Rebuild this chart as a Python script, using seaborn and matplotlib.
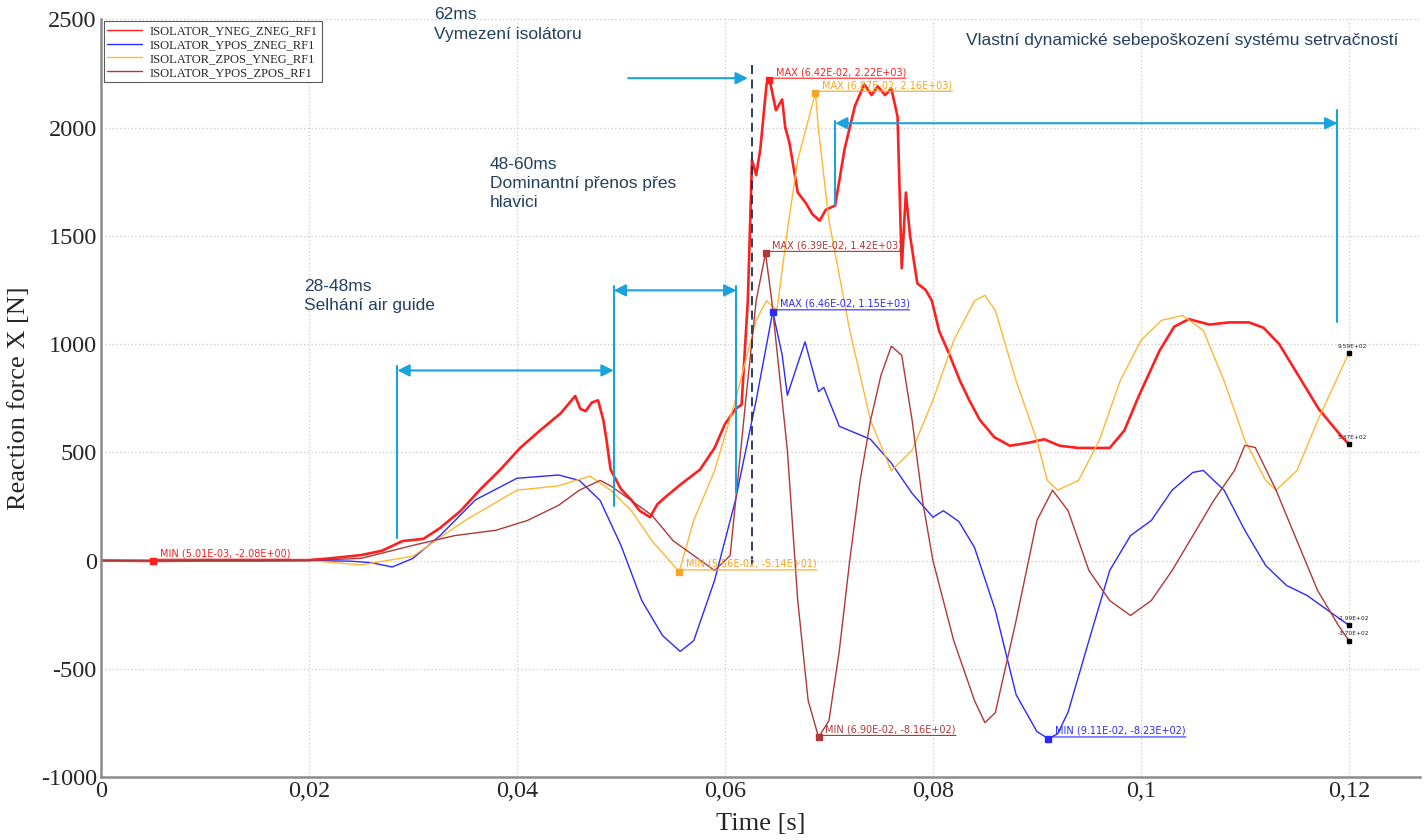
import numpy as np
import pandas as pd
import matplotlib
matplotlib.use("Agg")
import matplotlib.pyplot as plt
import seaborn as sns
from matplotlib.ticker import MultipleLocator, FuncFormatter

# ---------------- data ----------------
series_names = ["ISOLATOR_YNEG_ZNEG_RF1", "ISOLATOR_YPOS_ZNEG_RF1",
                "ISOLATOR_ZPOS_YNEG_RF1", "ISOLATOR_YPOS_ZPOS_RF1"]
series_colors = ["#ff1f1f", "#2b2bff", "#ffb733", "#b03838"]

t_red = [0, 0.00501, 0.01, 0.015, 0.02, 0.022, 0.025, 0.027, 0.029, 0.031, 0.0326, 0.0346,
         0.0365, 0.0384, 0.0403, 0.0422, 0.0442, 0.0449, 0.0456, 0.0461, 0.0466, 0.0472, 0.0478,
         0.0483, 0.0486, 0.049, 0.050, 0.051, 0.0518, 0.0528, 0.0535, 0.0542, 0.0557, 0.0576,
         0.059, 0.060, 0.061, 0.0616, 0.0622, 0.0626, 0.063, 0.0634, 0.064, 0.0643, 0.0649,
         0.0655, 0.0658, 0.0662, 0.067, 0.0678, 0.0684, 0.0691, 0.0697, 0.0706, 0.0715, 0.0725,
         0.0734, 0.0741, 0.0747, 0.0754, 0.076, 0.0766, 0.077, 0.0774, 0.0778, 0.0785, 0.0793,
         0.0799, 0.0806, 0.0816, 0.0826, 0.0835, 0.0845, 0.0859, 0.0874, 0.0893, 0.0907,
         0.0922, 0.094, 0.097, 0.0984, 0.0998, 0.1018, 0.1032, 0.1046, 0.1066, 0.1085, 0.1104,
         0.1118, 0.1133, 0.1152, 0.1171, 0.119, 0.12]
f_red = [0, -2.08, 0, 0, 2, 10, 25, 45, 90, 100, 150, 230,
         330, 420, 520, 600, 680, 720, 760, 700, 690, 730, 740,
         650, 560, 420, 330, 280, 230, 200, 260, 290, 350, 420,
         520, 630, 700, 720, 1200, 1850, 1780, 1900, 2200, 2220, 2080,
         2130, 2000, 1930, 1700, 1650, 1600, 1570, 1620, 1640, 1900, 2100,
         2200, 2150, 2190, 2150, 2180, 2050, 1350, 1700, 1500, 1280, 1250,
         1200, 1060, 950, 830, 740, 650, 570, 530, 545, 560,
         530, 520, 520, 600, 760, 970, 1080, 1115, 1090, 1100, 1100,
         1075, 1000, 850, 700, 590, 537]

t_blue = [0, 0.01, 0.02, 0.024, 0.026, 0.028, 0.030, 0.0326, 0.036, 0.0384, 0.040, 0.044,
          0.046, 0.048, 0.050, 0.052, 0.054, 0.0557, 0.057, 0.059, 0.061, 0.063, 0.0646,
          0.0655, 0.066, 0.0668, 0.0677, 0.069, 0.0695, 0.071, 0.072, 0.074, 0.076, 0.078,
          0.080, 0.081, 0.0825, 0.084, 0.086, 0.088, 0.090, 0.0911, 0.092, 0.093, 0.095,
          0.097, 0.099, 0.101, 0.103, 0.105, 0.106, 0.108, 0.110, 0.112, 0.114, 0.116,
          0.118, 0.12]
f_blue = [0, 0, 0, -3, -10, -30, 10, 115, 280, 340, 380, 395,
          370, 277, 70, -185, -347, -420, -370, -92, 277, 740, 1150,
          950, 763, 880, 1010, 780, 800, 620, 600, 560, 450, 310,
          200, 230, 180, 60, -230, -620, -790, -823, -800, -700, -370,
          -46, 115, 185, 325, 407, 416, 325, 139, -23, -115, -162,
          -231, -299]

t_orange = [0, 0.01, 0.02, 0.025, 0.030, 0.035, 0.040, 0.044, 0.047, 0.049, 0.051, 0.053,
            0.0556, 0.057, 0.059, 0.061, 0.063, 0.064, 0.065, 0.066, 0.067, 0.0687, 0.069,
            0.070, 0.072, 0.074, 0.076, 0.078, 0.080, 0.082, 0.084, 0.085, 0.086, 0.088,
            0.090, 0.091, 0.092, 0.094, 0.096, 0.098, 0.100, 0.102, 0.104, 0.106, 0.108,
            0.110, 0.112, 0.113, 0.115, 0.117, 0.119, 0.12]
f_orange = [0, 0, 0, -20, 20, 185, 325, 345, 390, 325, 230, 90,
            -51.4, 185, 415, 740, 1110, 1200, 1155, 1525, 1850, 2160, 1990,
            1570, 1063, 647, 415, 510, 740, 1017, 1200, 1225, 1155, 830,
            555, 370, 325, 370, 555, 830, 1017, 1110, 1132, 1063, 830,
            555, 370, 325, 415, 647, 855, 959]

t_dred = [0, 0.01, 0.02, 0.025, 0.030, 0.034, 0.038, 0.041, 0.044, 0.046, 0.048, 0.049,
          0.051, 0.053, 0.055, 0.057, 0.059, 0.0605, 0.062, 0.063, 0.0639, 0.0645, 0.066,
          0.067, 0.068, 0.069, 0.070, 0.071, 0.072, 0.073, 0.074, 0.075, 0.076, 0.077,
          0.078, 0.079, 0.080, 0.082, 0.084, 0.085, 0.086, 0.088, 0.090, 0.0915, 0.093,
          0.095, 0.097, 0.099, 0.101, 0.103, 0.105, 0.107, 0.109, 0.110, 0.111, 0.113,
          0.115, 0.117, 0.119, 0.12]
f_dred = [0, 0, 0, 10, 70, 115, 140, 185, 255, 325, 370, 345,
          277, 208, 92, 23, -46, 23, 740, 1200, 1420, 1200, 510,
          -185, -647, -816, -740, -416, 0, 370, 647, 855, 990, 948,
          647, 277, 0, -370, -647, -749, -703, -277, 185, 325, 230,
          -46, -185, -254, -185, -46, 115, 277, 416, 532, 522, 325,
          92, -139, -300, -370]

# annotated extremes (series index, kind, t, value)
ext_series = [0, 0, 2, 3, 1, 2, 3, 1]
ext_kind = ["MIN", "MAX", "MAX", "MAX", "MAX", "MIN", "MIN", "MIN"]
ext_t = [0.00501, 0.0642, 0.0687, 0.0639, 0.0646, 0.0556, 0.0690, 0.0911]
ext_v = [-2.08, 2220, 2160, 1420, 1150, -51.4, -816, -823]

x_ticks = [0, 0.02, 0.04, 0.06, 0.08, 0.10, 0.12]
y_ticks = [-1000, -500, 0, 500, 1000, 1500, 2000, 2500]

# ---------------- frame ----------------
frames = []
for name, t, f in zip(series_names,
                      [t_red, t_blue, t_orange, t_dred],
                      [f_red, f_blue, f_orange, f_dred]):
    frames.append(pd.DataFrame({"Time": t, "Force": f, "series": name}))
df = pd.concat(frames, ignore_index=True)

sns.set_style("white")
plt.rcParams["font.family"] = ["Liberation Serif", "DejaVu Serif"]
plt.rcParams["axes.unicode_minus"] = False

fig = plt.figure(figsize=(14.27, 8.4), dpi=100)
ax = fig.add_axes([0.0708, 0.075, 0.924, 0.902])

palette = dict(zip(series_names, series_colors))
sns.lineplot(data=df, x="Time", y="Force", hue="series", palette=palette,
             hue_order=series_names, estimator=None, sort=False, ax=ax,
             linewidth=1.0, legend=True)
# make the red line heavier (noisy in original)
ax.lines[0].set_linewidth(1.9)

ax.set_xlim(0, 0.1268)
ax.set_ylim(-1000, 2500)
ax.set_xticks(x_ticks)
ax.set_yticks(y_ticks)
ax.xaxis.set_minor_locator(MultipleLocator(0.01))
ax.yaxis.set_minor_locator(MultipleLocator(250))
ax.xaxis.set_major_formatter(FuncFormatter(
    lambda v, p: ("%g" % round(v, 4)).replace(".", ",")))
ax.tick_params(axis="both", which="major", direction="in", length=5,
               color="#9a9a9a", labelsize=17.5, pad=3)
ax.tick_params(axis="both", which="minor", direction="in", length=3, color="#9a9a9a")
ax.grid(True, which="major", linestyle=(0, (1, 2)), color="#c9c9c9", linewidth=0.9)
for s in ["top", "right"]:
    ax.spines[s].set_visible(False)
for s in ["left", "bottom"]:
    ax.spines[s].set_color("#8c8c8c")
    ax.spines[s].set_linewidth(1.8)

ax.set_xlabel("Time [s]", fontsize=19, labelpad=8)
ax.set_ylabel("Reaction force X [N]", fontsize=19, labelpad=8)

leg = ax.legend(loc="upper left", bbox_to_anchor=(0.001, 0.999), fontsize=9,
                frameon=True, fancybox=False, handlelength=2.8, handletextpad=0.6,
                borderpad=0.3, labelspacing=0.15, borderaxespad=0.1)
leg.get_frame().set_edgecolor("#333333")
leg.get_frame().set_linewidth(0.8)
for h in leg.get_lines():
    h.set_linewidth(1.0)

# ---------------- extreme markers / labels ----------------
lab_font = dict(family="DejaVu Sans", fontsize=7, fontweight="normal")
fig.canvas.draw()
renderer = fig.canvas.get_renderer()
for si, kind, tt, vv in zip(ext_series, ext_kind, ext_t, ext_v):
    col = series_colors[si]
    if si == 2:
        col = "#f5a623"
    ax.plot([tt], [vv], marker="s", ms=4, color=col, zorder=5)
    txt = ax.annotate(f"{kind} ({tt:.2E}, {vv:.2E})", xy=(tt, vv),
                      xytext=(5, 2), textcoords="offset points", color=col,
                      ha="left", va="bottom", zorder=6, **lab_font)
    bb = txt.get_window_extent(renderer)
    x1 = ax.transData.inverted().transform((bb.x1, bb.y0))[0]
    ax.plot([tt, tt + 0.0004, x1], [vv, vv + 8, vv + 8], color=col, lw=0.8, zorder=5)

# end-of-series value markers
for f, col in zip([f_red, f_blue, f_orange, f_dred], series_colors):
    ax.plot([0.12], [f[-1]], marker="s", ms=3.5, color="black", zorder=6)
    ax.annotate(f"{f[-1]:.2E}", xy=(0.12, f[-1]), xytext=(-8, 3),
                textcoords="offset points", fontsize=4.2, color="#222222",
                ha="left", va="bottom", family="DejaVu Sans")

# ---------------- phase annotations ----------------
acol = "#19a2de"
tcol = "#23405e"
afont = dict(family="Liberation Sans", fontsize=12.5, color=tcol, linespacing=1.35)

def darrow(x0, x1, y, style="<|-|>"):
    ax.annotate("", xy=(x1, y), xytext=(x0, y),
                arrowprops=dict(arrowstyle=style, color=acol, lw=1.5,
                                mutation_scale=18, shrinkA=0, shrinkB=0))

def vline(x, y0, y1):
    ax.plot([x, x], [y0, y1], color=acol, lw=1.5, zorder=4)

# 28-48 ms
darrow(0.0285, 0.0493, 878)
vline(0.0285, 900, 106)
vline(0.0493, 1270, 250)
ax.text(0.0195, 1300, "28-48ms\nSelhání air guide", ha="left", va="top", **afont)
# 48-60 ms
darrow(0.0493, 0.0611, 1248)
vline(0.0611, 1270, 314)
ax.text(0.0374, 1865, "48-60ms\nDominantní přenos přes\nhlavici", ha="left", va="top", **afont)
# 62 ms
darrow(0.0507, 0.0622, 2228, style="-|>")
ax.plot([0.0626, 0.0626], [2290, -20], color="#1e2f4f", lw=1.3,
        linestyle=(0, (5, 3)), zorder=4)
t62 = ax.text(0.0320, 2555, "62ms\nVymezení isolátoru", ha="left", va="top", **afont)
t62.set_clip_on(False)
# own dynamic self-damage
darrow(0.0706, 0.1189, 2020)
vline(0.0706, 2030, 1641)
vline(0.1189, 2080, 1100)
ax.text(0.0832, 2404, "Vlastní dynamické sebepoškození systému setrvačností",
        ha="left", va="center", **afont)

fig.savefig("out.png", dpi=100)
